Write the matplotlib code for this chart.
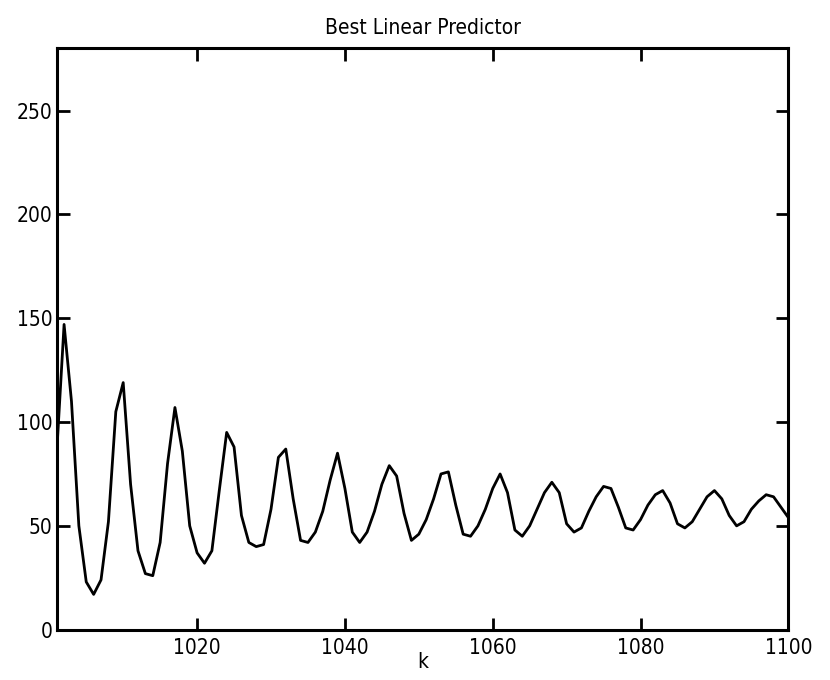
import matplotlib
matplotlib.use("Agg")
import matplotlib.pyplot as plt
import numpy as np

# k runs 1001..1100, one value per step
k_start = 1001
predictor = [
    85, 147, 110, 50, 23, 17, 24, 52, 105, 119,      # 1001-1010
    70, 38, 27, 26, 42, 80, 107, 86, 50, 37,          # 1011-1020
    32, 38, 67, 95, 88, 55, 42, 40, 41, 58,           # 1021-1030
    83, 87, 63, 43, 42, 47, 57, 72, 85, 68,           # 1031-1040
    47, 42, 47, 57, 70, 79, 74, 56, 43, 46,           # 1041-1050
    53, 63, 75, 76, 60, 46, 45, 50, 58, 68,           # 1051-1060
    75, 66, 48, 45, 50, 58, 66, 71, 66, 51,           # 1061-1070
    47, 49, 57, 64, 69, 68, 59, 49, 48, 53,           # 1071-1080
    60, 65, 67, 61, 51, 49, 52, 58, 64, 67,           # 1081-1090
    63, 55, 50, 52, 58, 62, 65, 64, 59, 54,           # 1091-1100
]
x_ticks = [1020, 1040, 1060, 1080, 1100]
y_ticks = [0, 50, 100, 150, 200, 250]

# narrow glyphs, close to the old MATLAB screen font
plt.rcParams['font.family'] = ['DejaVu Sans']
plt.rcParams['font.stretch'] = 'condensed'
FS = 15

k = np.arange(k_start, k_start + len(predictor))

fig = plt.figure(figsize=(8.3, 6.8), dpi=100)
ax = fig.add_axes([0.0683, 0.074, 0.8815, 0.855])

ax.plot(k, predictor, color='black', linewidth=2.0)

ax.set_xlim(1001, 1100)
ax.set_ylim(0, 280)
ax.set_xticks(x_ticks)
ax.set_yticks(y_ticks)
ax.tick_params(direction='in', length=9, width=2, top=True, right=True,
               labelsize=FS, pad=3)
ax.tick_params(axis='x', pad=6)
for s in ax.spines.values():
    s.set_linewidth(2.2)

ax.set_title('Best Linear Predictor', fontsize=FS, pad=10)
ax.set_xlabel('k', fontsize=FS, labelpad=-4)

fig.savefig('out.png', dpi=100)
